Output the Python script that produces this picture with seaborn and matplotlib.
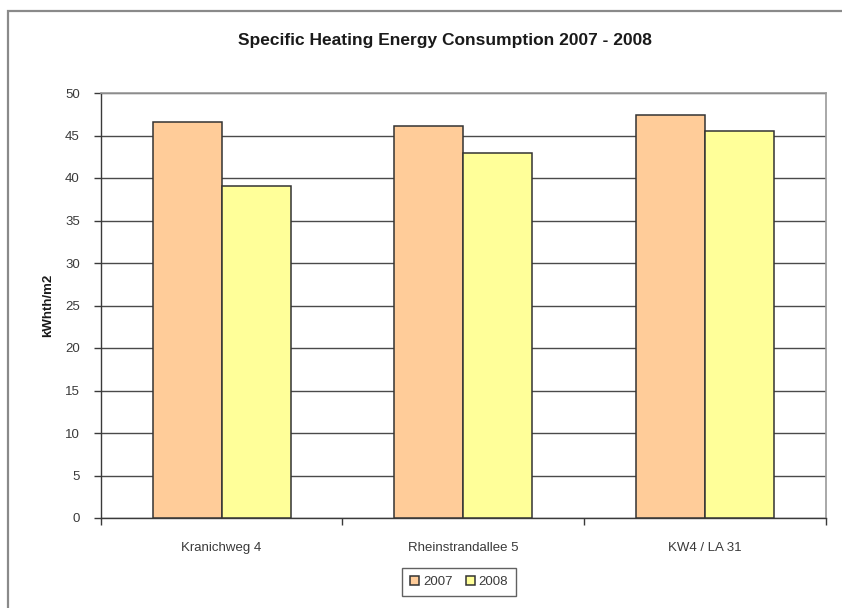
import matplotlib
matplotlib.use("Agg")
import matplotlib.pyplot as plt
import seaborn as sns
import pandas as pd
from matplotlib.patches import Rectangle

# Data
buildings = ["Kranichweg 4", "Rheinstrandallee 5", "KW4 / LA 31"]
years = ["2007", "2008"]
values_2007 = [46.6, 46.1, 47.4]
values_2008 = [39.1, 42.9, 45.5]
y_ticks = [0, 5, 10, 15, 20, 25, 30, 35, 40, 45, 50]

title = "Specific Heating Energy Consumption 2007 - 2008"
y_label = "kWhth/m2"

df = pd.DataFrame({
    "building": buildings * 2,
    "year": [years[0]] * len(buildings) + [years[1]] * len(buildings),
    "value": values_2007 + values_2008,
})

sns.set_theme(style="white")
plt.rcParams["font.family"] = ["Liberation Sans", "DejaVu Sans"]

W, H = 842, 608
fig = plt.figure(figsize=(W / 100, H / 100), dpi=100)
fig.patch.set_facecolor("white")

# Outer chart frame (runs off the right and bottom edges)
fig.patches.append(Rectangle((8 / W, -0.05), 1.2, 1 - 11 / H + 0.05,
                             transform=fig.transFigure, fill=False,
                             edgecolor="#8a8a8a", linewidth=1.6, zorder=0))

left, right, top, bottom = 100.7, 826, 93, 518
ax = fig.add_axes([left / W, 1 - bottom / H, (right - left) / W, (bottom - top) / H])

palette = {"2007": "#FFCC99", "2008": "#FFFF99"}
sns.barplot(data=df, x="building", y="value", hue="year", order=buildings,
            hue_order=years, palette=palette, width=0.5714, gap=0,
            edgecolor="#333333", linewidth=1.1, saturation=1, ax=ax,
            legend=True, zorder=3)

ax.set_ylim(0, 50)
ax.set_xlim(-0.5, len(buildings) - 0.5)
ax.set_yticks(y_ticks)
ax.set_yticklabels([str(t) for t in y_ticks], fontsize=9.5, color="#3a3a3a")
ax.yaxis.grid(True, color="#4a4a4a", linewidth=1.0, zorder=0)
ax.set_axisbelow(True)

# Category labels at centres, tick marks at category boundaries
ax.set_xticks([i - 0.5 for i in range(len(buildings) + 1)])
ax.set_xticklabels([""] * (len(buildings) + 1))
ax.set_xticks(range(len(buildings)), minor=True)
ax.set_xticklabels(buildings, minor=True, fontsize=9.5, color="#3a3a3a")
ax.tick_params(axis="x", which="major", direction="out", length=5,
               width=1, color="#3a3a3a", bottom=True)
ax.tick_params(axis="x", which="minor", length=0, pad=17)
ax.tick_params(axis="y", direction="out", length=5, width=1,
               color="#3a3a3a", left=True, pad=10)

for side in ["left", "bottom"]:
    ax.spines[side].set_color("#3a3a3a")
    ax.spines[side].set_linewidth(1.0)
for side in ["top", "right"]:
    ax.spines[side].set_color("#9a9a9a")
    ax.spines[side].set_linewidth(1.2)

ax.set_xlabel("")
ax.set_ylabel(y_label, fontsize=9.5, fontweight="bold", color="#1a1a1a",
              labelpad=8)

fig.text(445 / W, 1 - 40 / H, title, ha="center", va="center",
         fontsize=12.5, fontweight="bold", color="#1a1a1a")

handles, labels = ax.get_legend_handles_labels()
ax.legend_.remove()
leg = fig.legend(handles, labels, loc="center", bbox_to_anchor=(459 / W, 1 - 582 / H),
                 ncol=2, fontsize=9.5, frameon=True, fancybox=False,
                 edgecolor="#3a3a3a", handlelength=0.7, handleheight=0.7,
                 handletextpad=0.3, columnspacing=1.0, borderpad=0.6)
leg.get_frame().set_linewidth(1.0)
for t in leg.get_texts():
    t.set_color("#3a3a3a")

fig.savefig("out.png", dpi=100)
